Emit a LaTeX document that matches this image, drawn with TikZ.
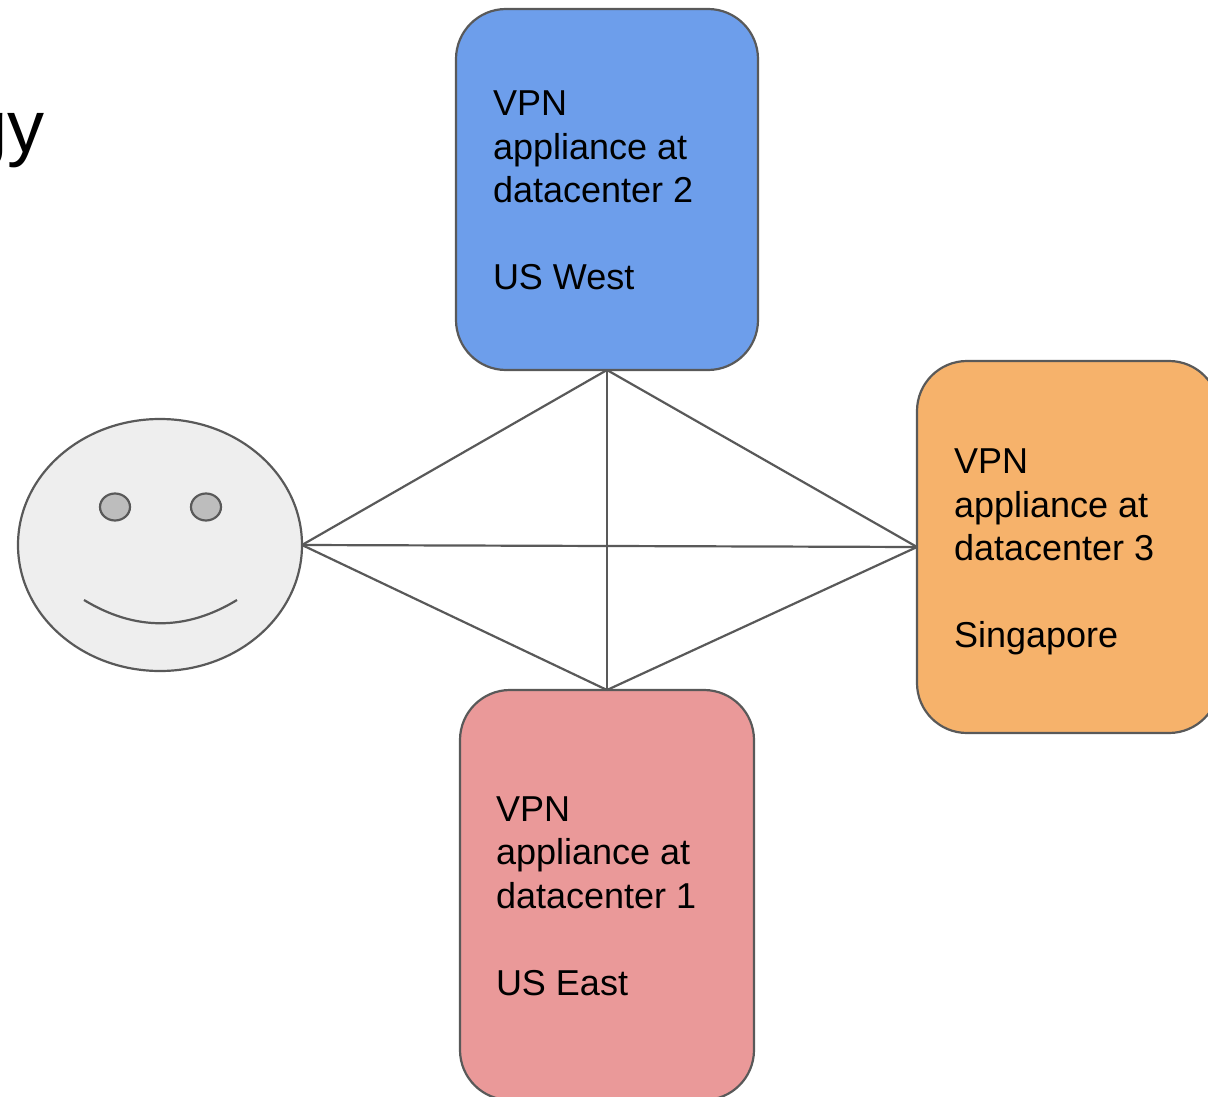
\documentclass[tikz,border=0pt]{standalone}
\usepackage{fontspec}
\setmainfont{Liberation Sans}
\usetikzlibrary{shapes.geometric}
\definecolor{edge}{HTML}{595959}
\definecolor{bluefill}{HTML}{6D9EEB}
\definecolor{orangefill}{HTML}{F6B26B}
\definecolor{redfill}{HTML}{EA9999}
\definecolor{facefill}{HTML}{EEEEEE}
\definecolor{eyefill}{HTML}{BDBDBD}
\tikzset{
  site/.style={draw=edge,line width=2.2pt,rounded corners=50pt,inner sep=0pt,outer sep=0pt,
    align=flush left,font=\fontsize{36}{43.5}\selectfont,text=black},
  faceshape/.style={ellipse,draw=edge,line width=2.2pt,fill=facefill,inner sep=0pt,outer sep=0pt},
  eye/.style={ellipse,draw=edge,line width=2.2pt,fill=eyefill,inner sep=0pt,outer sep=0pt,
    minimum width=30pt,minimum height=27pt},
  link/.style={draw=edge,line width=2.2pt},
}
\begin{document}
\begin{tikzpicture}[x=1pt,y=-1pt]
\useasboundingbox (0,0) rectangle (1208,1097);
\clip (0,0) rectangle (1208,1097);
\node[anchor=base east,inner sep=0pt,font=\fontsize{74}{80}\selectfont,text=black] (title) at (45,153) {gy};
\node[faceshape,minimum width=284pt,minimum height=252pt] (face) at (160,545) {};
\node[eye] (eyeL) at (115,507) {};
\node[eye] (eyeR) at (206,507) {};
\coordinate (smileL) at (84,600);
\coordinate (smileC) at (135,631);
\coordinate (smileD) at (186,631);
\coordinate (smileR) at (237,600);
\draw[link] (smileL) .. controls (smileC) and (smileD) .. (smileR);
\node[site,fill=bluefill,minimum width=302pt,minimum height=361pt,text width=228pt] (blue) at (607,189.5)
  {\rule{0pt}{27pt}VPN\\appliance at\\datacenter 2\\[0pt]\strut\\US West};
\node[site,fill=orangefill,minimum width=302pt,minimum height=372pt,text width=228pt] (orange) at (1068,547)
  {\rule{0pt}{35pt}VPN\\appliance at\\datacenter 3\\[0pt]\strut\\Singapore};
\node[site,fill=redfill,minimum width=294pt,minimum height=410pt,text width=222pt] (red) at (607,895)
  {\rule{0pt}{26.5pt}VPN\\appliance at\\datacenter 1\\[0pt]\strut\\US East};
\draw[link] (face.east) -- (blue.south);
\draw[link] (face.east) -- (red.north);
\draw[link] (face.east) -- (orange.west);
\draw[link] (blue.south) -- (red.north);
\draw[link] (blue.south) -- (orange.west);
\draw[link] (red.north) -- (orange.west);
\end{tikzpicture}
\end{document}
